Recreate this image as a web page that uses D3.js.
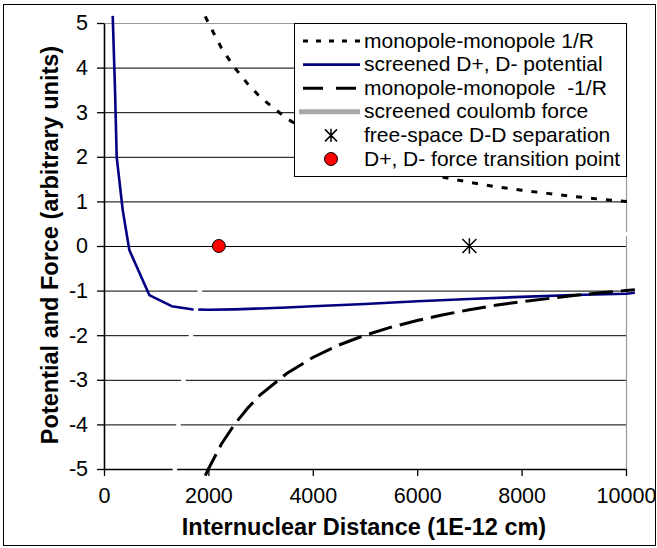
<!DOCTYPE html>
<html>
<head>
<meta charset="utf-8">
<script src="https://cdn.jsdelivr.net/npm/d3@7"></script>
<style>
  html, body { margin: 0; padding: 0; background: #fff; }
  svg { display: block; font-family: "Liberation Sans", Arial, sans-serif; }
</style>
</head>
<body>
<script>
// ---- data ----
const xTicks = [0, 2000, 4000, 6000, 8000, 10000];
const yTicks = [-5, -4, -3, -2, -1, 0, 1, 2, 3, 4, 5];

const monoR = [1940, 2000, 2250, 2500, 2750, 3000, 3500, 4000, 4500, 5000, 5500, 6000, 6500, 7000, 7500, 8000, 8500, 9000, 9500, 10000, 10170];
const monoPos = [5.15, 5.0, 4.44, 4.0, 3.64, 3.33, 2.86, 2.5, 2.22, 2.0, 1.82, 1.67, 1.54, 1.43, 1.33, 1.25, 1.18, 1.11, 1.05, 1.0, 0.98];
const monoNeg = [-5.15, -5.0, -4.44, -4.0, -3.64, -3.33, -2.86, -2.5, -2.22, -2.0, -1.82, -1.67, -1.54, -1.43, -1.33, -1.25, -1.18, -1.11, -1.05, -1.0, -0.98];

const screenedR = [167, 211, 243, 358, 485, 868, 1297, 1680, 2000, 2500, 3000, 3500, 4000, 5000, 6000, 7000, 8000, 9000, 10000, 10170];
const screenedPot = [5.16, 3.5, 2.0, 0.81, -0.09, -1.1, -1.35, -1.42, -1.43, -1.42, -1.40, -1.38, -1.35, -1.30, -1.24, -1.19, -1.14, -1.10, -1.07, -1.05];

const forceR = [1320, 1360, 1427, 1523, 1667, 1839, 2213, 2600, 3000, 4000, 5000, 6000, 7000, 8000, 9000, 10000, 10170];
const forceVal = [-5.15, -5, -4, -3, -2, -1, 0, 0.35, 0.5, 0.55, 0.5, 0.45, 0.4, 0.35, 0.3, 0.27, 0.26];

const separation = [{x: 7000, y: 0}];
const transition = [{x: 2200, y: 0}];

const legendLabels = [
  "monopole-monopole 1/R",
  "screened D+, D- potential",
  "monopole-monopole  -1/R",
  "screened coulomb force",
  "free-space D-D separation",
  "D+, D- force transition point"
];

// ---- layout ----
const W = 657, H = 548;
const L = 104, R = 626, T = 23, B = 469;
const FS = 21.5;
const LFS = 21;

const svg = d3.select("body").append("svg").attr("width", W).attr("height", H);

// outer border
svg.append("rect").attr("x", 3.5).attr("y", 4.5).attr("width", 652).attr("height", 541)
  .attr("fill", "#fff").attr("stroke", "#000").attr("stroke-width", 1);

const x = d3.scaleLinear().domain([0, 10000]).range([L, R]);
const y = d3.scaleLinear().domain([-5, 5]).range([B, T]);
const plain = d => String(d);

// gridlines
const grid = svg.append("g").attr("transform", `translate(${L},0)`)
  .call(d3.axisLeft(y).tickValues(yTicks).tickSize(-(R - L)).tickFormat(""));
grid.select(".domain").remove();
grid.selectAll("line").attr("stroke", "#000").attr("stroke-width", 1);

// plot border (top / right) in gray
svg.append("path").attr("d", `M${L},${T + 0.5}H${R + 0.5}V${B}`)
  .attr("fill", "none").attr("stroke", "#9a9a9a").attr("stroke-width", 1.2);

// axes
const yAxis = svg.append("g").attr("transform", `translate(${L},0)`)
  .call(d3.axisLeft(y).tickValues(yTicks).tickFormat(plain).tickSize(7).tickPadding(9).tickSizeOuter(0));
const xAxis = svg.append("g").attr("transform", `translate(0,${B})`)
  .call(d3.axisBottom(x).tickValues(xTicks).tickFormat(plain).tickSize(7).tickPadding(12).tickSizeOuter(0));
[yAxis, xAxis].forEach(a => {
  a.selectAll("line").attr("stroke", "#000").attr("stroke-width", 1.3);
  a.select(".domain").attr("stroke", "#000").attr("stroke-width", 1.6);
  a.selectAll("text").attr("font-size", FS).attr("fill", "#000")
    .attr("font-family", "Liberation Sans, Arial, sans-serif");
});

// series
const line = d3.line().x(d => x(d[0])).y(d => y(d[1]));
const zip = (a, b) => a.map((v, i) => [v, b[i]]);

svg.append("path").datum(zip(monoR, monoPos)).attr("d", line)
  .attr("fill", "none").attr("stroke", "#000").attr("stroke-width", 3)
  .attr("stroke-dasharray", "6,9");

svg.append("path").datum(zip(screenedR, screenedPot)).attr("d", line)
  .attr("fill", "none").attr("stroke", "#000080").attr("stroke-width", 2.6)
  .attr("stroke-linejoin", "round");

svg.append("path").datum(zip(monoR, monoNeg)).attr("d", line)
  .attr("fill", "none").attr("stroke", "#000").attr("stroke-width", 3)
  .attr("stroke-dasharray", "24,8");

svg.append("path").datum(zip(forceR, forceVal)).attr("d", d3.line().curve(d3.curveMonotoneX).x(d => x(d[0])).y(d => y(d[1])))
  .attr("fill", "none").attr("stroke", "#fff").attr("stroke-width", 4.5);

// markers
function asterisk(g, cx, cy, s) {
  const p = `M${cx - s},${cy - s}L${cx + s},${cy + s}M${cx - s},${cy + s}L${cx + s},${cy - s}M${cx},${cy - s * 1.1}L${cx},${cy + s * 1.1}`;
  g.append("path").attr("d", p).attr("stroke", "#000").attr("stroke-width", 1.5).attr("fill", "none");
}
separation.forEach(d => asterisk(svg, x(d.x), y(d.y), 7));
svg.selectAll("circle.tp").data(transition).join("circle").attr("class", "tp")
  .attr("cx", d => x(d.x)).attr("cy", d => y(d.y)).attr("r", 6.5)
  .attr("fill", "#ff0000").attr("stroke", "#000").attr("stroke-width", 1);

// axis titles
svg.append("text").attr("x", 364).attr("y", 535).attr("text-anchor", "middle")
  .attr("font-size", 23.5).attr("font-weight", "bold").text("Internuclear Distance (1E-12 cm)");
svg.append("text").attr("transform", "translate(58,245) rotate(-90)").attr("text-anchor", "middle")
  .attr("font-size", 23.5).attr("font-weight", "bold").text("Potential and Force (arbitrary units)");

// legend
const lg = svg.append("g");
lg.append("rect").attr("x", 294.5).attr("y", 23.5).attr("width", 332).attr("height", 153)
  .attr("fill", "#fff").attr("stroke", "#000").attr("stroke-width", 1);
const rowY = i => 41 + 23.6 * i;
const sx0 = 303, sx1 = 360, mx = 331;
lg.append("line").attr("x1", sx0).attr("x2", sx1).attr("y1", rowY(0)).attr("y2", rowY(0))
  .attr("stroke", "#000").attr("stroke-width", 3).attr("stroke-dasharray", "5,8");
lg.append("line").attr("x1", sx0).attr("x2", sx1).attr("y1", rowY(1)).attr("y2", rowY(1))
  .attr("stroke", "#000080").attr("stroke-width", 2.6);
lg.append("line").attr("x1", sx0).attr("x2", sx1).attr("y1", rowY(2)).attr("y2", rowY(2))
  .attr("stroke", "#000").attr("stroke-width", 3).attr("stroke-dasharray", "20,13");
lg.append("line").attr("x1", sx0 - 4).attr("x2", sx1).attr("y1", rowY(3)).attr("y2", rowY(3))
  .attr("stroke", "#a8a8a8").attr("stroke-width", 5);
asterisk(lg, mx, rowY(4), 6);
lg.append("circle").attr("cx", mx).attr("cy", rowY(5)).attr("r", 6.5)
  .attr("fill", "#ff0000").attr("stroke", "#000").attr("stroke-width", 1);
legendLabels.forEach((t, i) => {
  lg.append("text").attr("x", 364).attr("y", rowY(i) + 6.5).attr("font-size", LFS)
    .attr("fill", "#000").attr("xml:space", "preserve").style("white-space", "pre").text(t);
});
</script>
</body>
</html>
